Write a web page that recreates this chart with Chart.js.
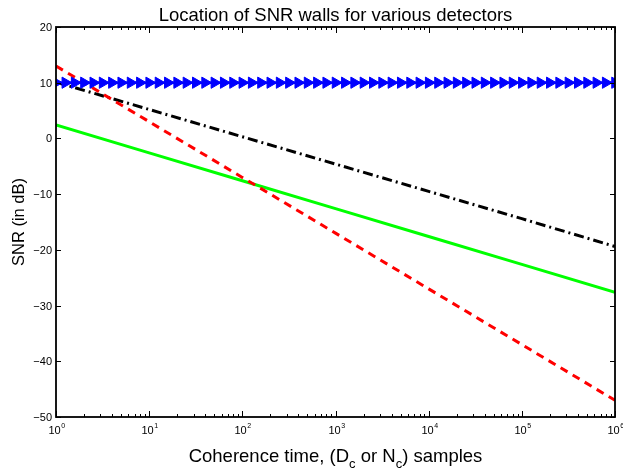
<!DOCTYPE html>
<html><head><meta charset="utf-8">
<script src="https://cdn.jsdelivr.net/npm/chart.js@4"></script>
<style>html,body{margin:0;padding:0;background:#fff}</style>
</head><body>
<canvas id="c" width="623" height="468"></canvas>
<script>
// ---- data ----
const decades = [1, 10, 100, 1000, 10000, 100000, 1000000];
const redDB   = [13, 3, -7, -17, -27, -37, -47];
const blackDB = [10.1, 5.2, 0.3, -4.6, -9.5, -14.4, -19.4];
const greenDB = [2.4, -2.6, -7.6, -12.6, -17.6, -22.6, -27.6];
const blueExp = [0,0.1,0.2,0.3,0.4,0.5,0.6,0.7,0.8,0.9,1,1.1,1.2,1.3,1.4,1.5,1.6,1.7,1.8,1.9,2,2.1,2.2,2.3,2.4,2.5,2.6,2.7,2.8,2.9,3,3.1,3.2,3.3,3.4,3.5,3.6,3.7,3.8,3.9,4,4.1,4.2,4.3,4.4,4.5,4.6,4.7,4.8,4.9,5,5.1,5.2,5.3,5.4,5.5,5.6,5.7,5.8,5.9,6];
const blueDB  = [10,10,10,10,10,10,10,10,10,10,10,10,10,10,10,10,10,10,10,10,10,10,10,10,10,10,10,10,10,10,10,10,10,10,10,10,10,10,10,10,10,10,10,10,10,10,10,10,10,10,10,10,10,10,10,10,10,10,10,10,10];
const yTicks = [20, 10, 0, -10, -20, -30, -40, -50];
const xTickExp = [0, 1, 2, 3, 4, 5, 6];
const titleText = 'Location of SNR walls for various detectors';
const yTitle = 'SNR (in dB)';

const pts = (xs, ys) => xs.map((x, i) => ({x: x, y: ys[i]}));
const FONT = "Helvetica, Arial, 'Liberation Sans', sans-serif";
const BIG = '18.5px ';

const axesPlugin = {
  id: 'axesPlugin',
  afterDraw(chart) {
    const {ctx, chartArea: {left, right, top, bottom}, scales: {x, y}} = chart;
    ctx.save();
    ctx.strokeStyle = '#000';
    ctx.fillStyle = '#000';
    ctx.lineWidth = 1.8;
    ctx.strokeRect(left, top, right - left, bottom - top);
    ctx.lineWidth = 1;
    // y ticks
    ctx.font = '11px ' + FONT;
    ctx.textAlign = 'right';
    ctx.textBaseline = 'middle';
    yTicks.forEach(v => {
      const py = Math.round(y.getPixelForValue(v)) + 0.5;
      ctx.beginPath();
      ctx.moveTo(left, py); ctx.lineTo(left + 5, py);
      ctx.moveTo(right, py); ctx.lineTo(right - 5, py);
      ctx.stroke();
      ctx.fillText(v < 0 ? '\u2212' + Math.abs(v) : String(v), left - 4, py);
    });
    // x ticks
    xTickExp.forEach(e => {
      const base = Math.pow(10, e);
      const px = Math.round(x.getPixelForValue(base)) + 0.5;
      ctx.beginPath();
      ctx.moveTo(px, bottom); ctx.lineTo(px, bottom - 6);
      ctx.moveTo(px, top); ctx.lineTo(px, top + 6);
      ctx.stroke();
      if (e < 6) {
        for (let m = 2; m <= 9; m++) {
          const mx = Math.round(x.getPixelForValue(m * base)) + 0.5;
          ctx.beginPath();
          ctx.moveTo(mx, bottom); ctx.lineTo(mx, bottom - 3);
          ctx.moveTo(mx, top); ctx.lineTo(mx, top + 3);
          ctx.stroke();
        }
      }
      ctx.font = '11px ' + FONT;
      ctx.textBaseline = 'alphabetic';
      ctx.textAlign = 'left';
      const w10 = ctx.measureText('10').width;
      ctx.font = '7px ' + FONT;
      const we = ctx.measureText(String(e)).width;
      const sx = px - (w10 + we) / 2;
      ctx.font = '11px ' + FONT;
      ctx.fillText('10', sx, bottom + 17);
      ctx.font = '7px ' + FONT;
      ctx.fillText(String(e), sx + w10 + 0.5, bottom + 11);
    });
    // title
    ctx.font = BIG + FONT;
    ctx.textAlign = 'center';
    ctx.textBaseline = 'alphabetic';
    ctx.fillText(titleText, (left + right) / 2, 21);
    // x title with subscripts
    const parts = [['Coherence time, (D', 0], ['c', 1], [' or N', 0], ['c', 1], [') samples', 0]];
    let total = 0;
    parts.forEach(p => { ctx.font = (p[1] ? '13px ' : BIG) + FONT; total += ctx.measureText(p[0]).width; });
    let cx = (left + right) / 2 - total / 2;
    ctx.textAlign = 'left';
    parts.forEach(p => {
      ctx.font = (p[1] ? '13px ' : BIG) + FONT;
      ctx.fillText(p[0], cx, p[1] ? 468 : 462);
      cx += ctx.measureText(p[0]).width;
    });
    // y title
    ctx.save();
    ctx.translate(24, (top + bottom) / 2);
    ctx.rotate(-Math.PI / 2);
    ctx.font = '16.5px ' + FONT;
    ctx.textAlign = 'center';
    ctx.textBaseline = 'alphabetic';
    ctx.fillText(yTitle, 0, 0);
    ctx.restore();
    ctx.restore();
  }
};

new Chart(document.getElementById('c').getContext('2d'), {
  type: 'line',
  data: {
    datasets: [
      {data: pts(blueExp.map(e => Math.pow(10, e)), blueDB), borderColor: '#0000ff', backgroundColor: '#0000ff',
       borderWidth: 2.5, pointStyle: 'triangle', rotation: 90, pointRadius: 6.5, pointBorderWidth: 1, order: 1},
      {data: pts(decades, redDB), borderColor: '#ff0000', borderWidth: 3, borderDash: [8, 6], pointRadius: 0, order: 2},
      {data: pts(decades, blackDB), borderColor: '#000000', borderWidth: 3, borderDash: [10, 4, 2, 4], pointRadius: 0, order: 3},
      {data: pts(decades, greenDB), borderColor: '#00ff00', borderWidth: 3, pointRadius: 0, order: 4}
    ]
  },
  options: {
    responsive: false,
    animation: false,
    layout: {padding: {left: 56, right: 8, top: 27, bottom: 51}},
    plugins: {legend: {display: false}, tooltip: {enabled: false}},
    elements: {line: {tension: 0}},
    scales: {
      x: {type: 'logarithmic', min: 1, max: 1000000, display: false},
      y: {type: 'linear', min: -50, max: 20, display: false}
    }
  },
  plugins: [axesPlugin]
});
</script>
</body></html>
